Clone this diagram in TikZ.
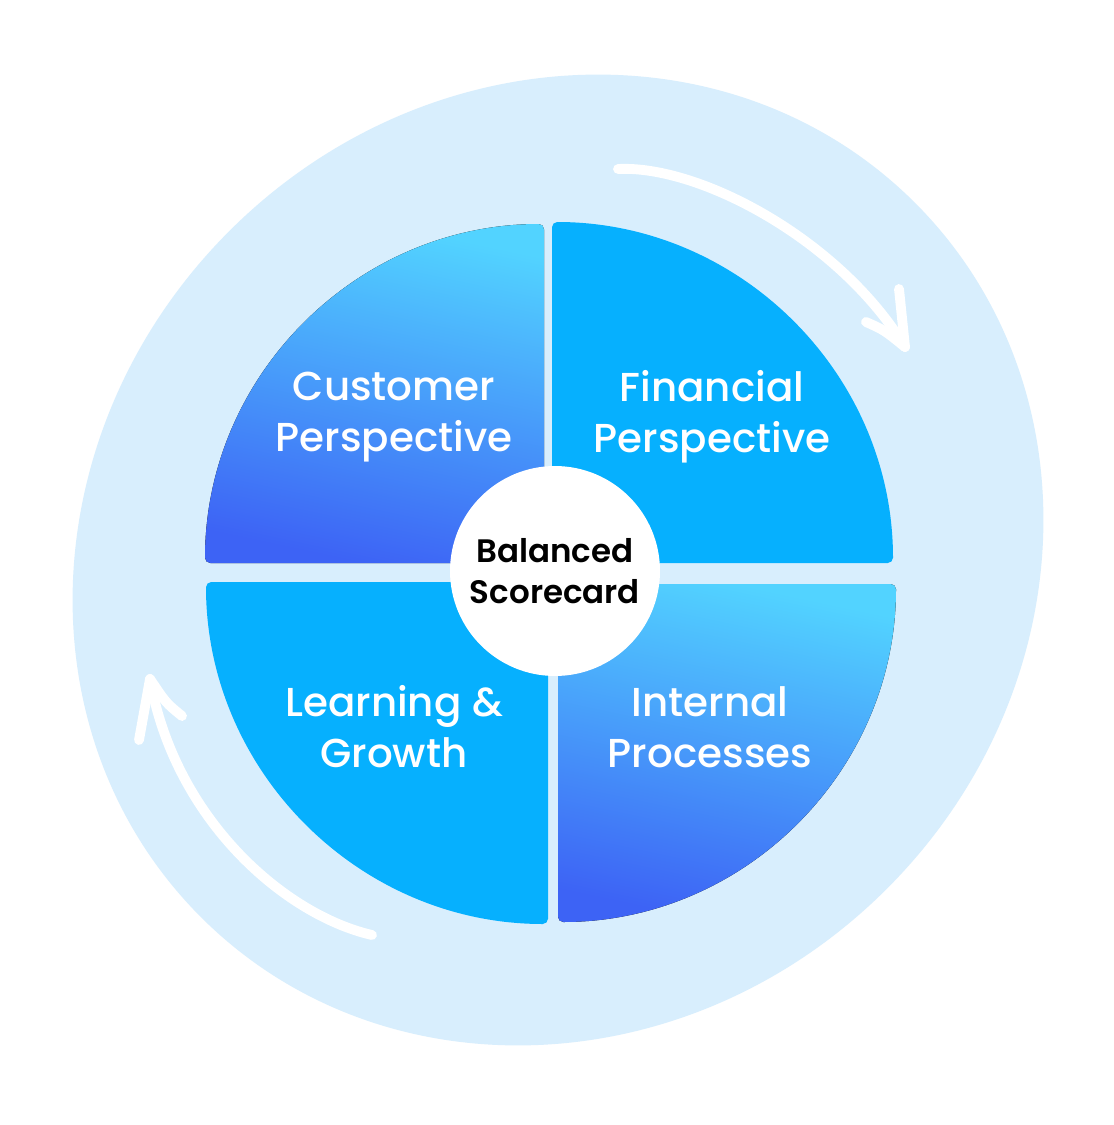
\documentclass[tikz,border=0pt]{standalone}
\usepackage{fontspec}
\setmainfont{Poppins}
\newfontfamily\medfont{Poppins Medium}
\newfontfamily\semifont{Poppins SemiBold}
\definecolor{blobblue}{HTML}{D8EEFD}
\definecolor{skyfill}{HTML}{06B0FE}
\definecolor{gradtop}{HTML}{52D3FF}
\definecolor{gradbot}{HTML}{3D63F5}
\begin{document}
\begin{tikzpicture}[x=0.02cm, y=0.02cm,
  sector/.style={fill=skyfill, rounded corners=3pt},
  gradsector/.style={top color=gradtop, bottom color=gradbot, shading angle=-12, rounded corners=3pt},
  label/.style={text=white, align=center, font=\medfont\fontsize{23}{29}\selectfont},
  hub/.style={circle, fill=white, minimum size=4.2cm, inner sep=0pt, align=center, font=\semifont\fontsize{18.5}{23}\selectfont},
  cyclearrow/.style={draw=white, line width=5.6pt, line cap=round, line join=round}]
  \useasboundingbox (0,0) rectangle (1114,-1125);
  \fill[white] (0,0) rectangle (1114,-1125);
  % outer ring
  \fill[blobblue, rotate around={45:(558,-560)}] (558,-560) ellipse [x radius=505, y radius=465];
  % the four quarters
  \fill[gradsector] (544,-563) -- (205,-563) arc[start angle=180, end angle=90, radius=339] -- cycle;
  \fill[sector] (552,-563) -- (552,-222) arc[start angle=90, end angle=0, radius=341] -- cycle;
  \fill[sector] (548,-582) -- (206,-582) arc[start angle=180, end angle=270, radius=342] -- cycle;
  \fill[gradsector] (558,-584) -- (896,-584) arc[start angle=0, end angle=-90, radius=338] -- cycle;
  \node[label] (cust) at (394,-417) {Customer\\Perspective};
  \node[label] (fin) at (712,-417) {Financial\\Perspective};
  \node[label] (learn) at (394,-727) {Learning \&\\Growth};
  \node[label] (intern) at (710,-727) {Internal\\Processes};
  \node[hub] (hub) at (555,-571) {Balanced\\Scorecard};
  % arrows
  \coordinate (topstart) at (618,-169);
  \coordinate (toptip) at (905,-347);
  \coordinate (topbarbA) at (899,-289);
  \coordinate (topbarbB) at (866,-322);
  \draw[cyclearrow] (topstart) .. controls (700,-165) and (840,-240) .. (toptip);
  \draw[cyclearrow] (topbarbA) -- (toptip);
  \draw[cyclearrow] (topbarbB) .. controls (884,-330) .. (toptip);
  \coordinate (botstart) at (372,-935);
  \coordinate (bottip) at (150,-679);
  \coordinate (botbarbA) at (139,-740);
  \coordinate (botbarbB) at (182,-716);
  \draw[cyclearrow] (botstart) .. controls (285,-915) and (175,-820) .. (bottip);
  \draw[cyclearrow] (botbarbA) -- (bottip);
  \draw[cyclearrow] (botbarbB) .. controls (166,-703) .. (bottip);
\end{tikzpicture}
\end{document}
